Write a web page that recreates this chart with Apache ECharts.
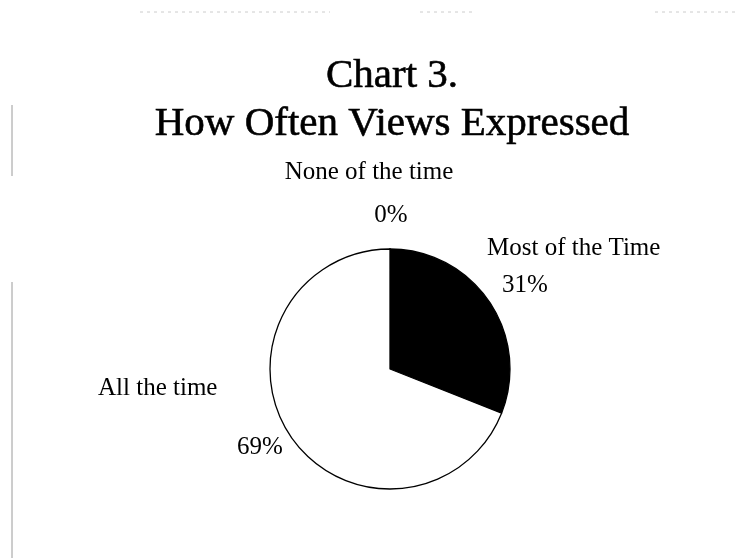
<!DOCTYPE html>
<html>
<head>
<meta charset="utf-8">
<script src="https://cdn.jsdelivr.net/npm/echarts@6/dist/echarts.min.js"></script>
<style>
html,body{margin:0;padding:0;background:#fff;}
#chart{width:742px;height:558px;}
</style>
</head>
<body>
<div id="chart"></div>
<script>
// Data
const titleLines = ['Chart 3.', 'How Often Views Expressed'];
const categories = ['None of the time', 'Most of the Time', 'All the time'];
const values = [0, 31, 69];
const sliceColors = ['#ffffff', '#000000', '#ffffff'];

// Label placement (style only)
const nameLayout = [
  {x: 369, y: 172, align: 'center'},
  {x: 487, y: 248, align: 'left'},
  {x: 98,  y: 388, align: 'left'}
];
const pctLayout = [
  {x: 391, y: 215, align: 'center'},
  {x: 502, y: 285, align: 'left'},
  {x: 237, y: 447, align: 'left'}
];

const FONT = '"Liberation Serif", "DejaVu Serif", serif';
const total = values.reduce((a, b) => a + b, 0);

const pieData = categories.map((c, i) => ({
  name: c,
  value: values[i],
  itemStyle: {color: sliceColors[i]}
}));

const baseSeries = {
  type: 'pie',
  center: [390, 369],
  radius: 120,
  startAngle: 90,
  clockwise: true,
  avoidLabelOverlap: false,
  silent: true,
  animation: false,
  labelLine: {show: false}
};

const chart = echarts.init(document.getElementById('chart'), null, {renderer: 'canvas'});
chart.setOption({
  backgroundColor: '#ffffff',
  title: {
    text: titleLines.join('\n'),
    left: 387,
    top: 47,
    textAlign: 'center',
    textStyle: {
      fontFamily: FONT,
      fontSize: 41,
      lineHeight: 48,
      fontWeight: 'normal',
      color: '#000',
      textBorderColor: '#000',
      textBorderWidth: 0.6
    }
  },
  graphic: [
    {type: 'line', shape: {x1: 12, y1: 105, x2: 12, y2: 176}, style: {stroke: '#9a9a9a', lineWidth: 1}, silent: true},
    {type: 'line', shape: {x1: 12, y1: 282, x2: 12, y2: 558}, style: {stroke: '#9a9a9a', lineWidth: 1}, silent: true},
    {type: 'line', shape: {x1: 140, y1: 12, x2: 330, y2: 12}, style: {stroke: '#cccccc', lineWidth: 1, lineDash: [3, 4]}, silent: true},
    {type: 'line', shape: {x1: 420, y1: 12, x2: 475, y2: 12}, style: {stroke: '#cccccc', lineWidth: 1, lineDash: [3, 4]}, silent: true},
    {type: 'line', shape: {x1: 655, y1: 12, x2: 738, y2: 12}, style: {stroke: '#cccccc', lineWidth: 1, lineDash: [3, 4]}, silent: true}
  ],
  series: [
    Object.assign({}, baseSeries, {
      name: 'slices',
      data: pieData,
      itemStyle: {borderColor: '#000', borderWidth: 1.3},
      label: {
        show: true,
        position: 'outside',
        formatter: p => p.name,
        fontFamily: FONT,
        fontSize: 25,
        color: '#000'
      },
      labelLayout: p => {
        const l = nameLayout[p.dataIndex];
        return {x: l.x, y: l.y, align: l.align, verticalAlign: 'middle', hideOverlap: false};
      }
    }),
    Object.assign({}, baseSeries, {
      name: 'pct',
      data: pieData.map(d => ({name: d.name, value: d.value})),
      itemStyle: {color: 'rgba(0,0,0,0)', borderWidth: 0},
      label: {
        show: true,
        position: 'outside',
        formatter: p => Math.round(p.value / total * 100) + '%',
        fontFamily: FONT,
        fontSize: 25,
        color: '#000'
      },
      labelLayout: p => {
        const l = pctLayout[p.dataIndex];
        return {x: l.x, y: l.y, align: l.align, verticalAlign: 'middle', hideOverlap: false};
      }
    })
  ]
});
</script>
</body>
</html>
